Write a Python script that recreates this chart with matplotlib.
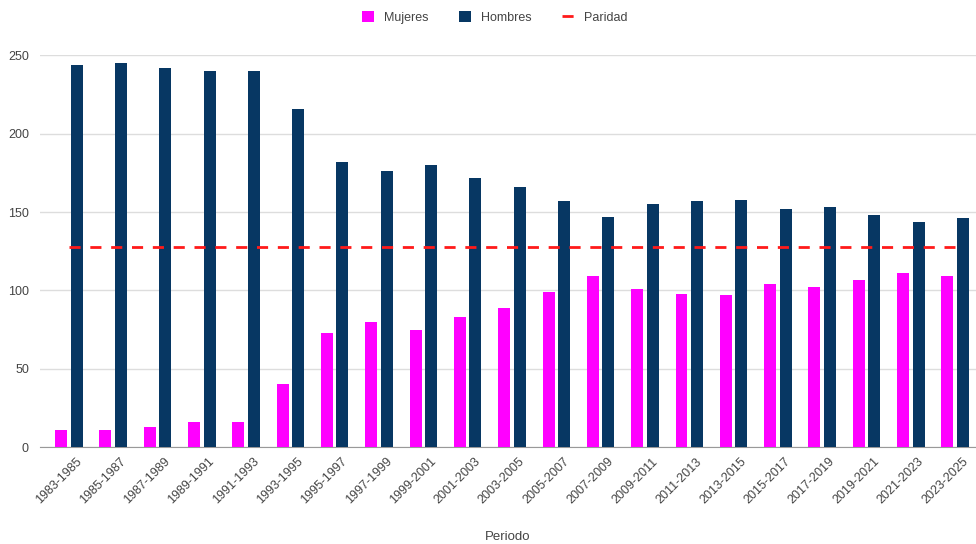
import numpy as np
import matplotlib.pyplot as plt

plt.rcParams['font.family'] = ['Liberation Sans', 'DejaVu Sans']

# =============================================================================
# Data
# =============================================================================
periodos = ['1983-1985', '1985-1987', '1987-1989', '1989-1991', '1991-1993',
            '1993-1995', '1995-1997', '1997-1999', '1999-2001', '2001-2003',
            '2003-2005', '2005-2007', '2007-2009', '2009-2011', '2011-2013',
            '2013-2015', '2015-2017', '2017-2019', '2019-2021', '2021-2023',
            '2023-2025']
mujeres = [11, 11, 13, 16, 16, 40, 73, 80, 75, 83, 89, 99, 109, 101, 98, 97,
           104, 102, 107, 111, 109]
hombres = [244, 245, 242, 240, 240, 216, 182, 176, 180, 172, 166, 157, 147,
           155, 157, 158, 152, 153, 148, 144, 146]
paridad = 128

# =============================================================================
# Plot
# =============================================================================
fig = plt.figure(figsize=(9.76, 5.44), dpi=100)
ax = fig.add_axes([0.041, 0.178, 0.959, 0.720])

x = np.arange(len(periodos))
w = 0.27
off = 0.175
b1 = ax.bar(x - off, mujeres, width=w, color='#ff00ff', label='Mujeres',
            zorder=3)
b2 = ax.bar(x + off, hombres, width=w, color='#073763', label='Hombres',
            zorder=3)
ln, = ax.plot([x[0], x[-1]], [paridad, paridad], color='#ff1a1a', lw=2,
              dashes=(4, 3.5), label='Paridad', zorder=4)

ax.set_xlim(-0.65, len(periodos) - 1 + 0.47)
ax.set_ylim(0, 250)
ax.set_yticks(np.arange(0, 251, 50))
ax.grid(axis='y', color='#dddddd', lw=1, zorder=0)
for s in ['top', 'right', 'left']:
    ax.spines[s].set_visible(False)
ax.spines['bottom'].set_color('#999999')
ax.tick_params(axis='both', length=0, labelsize=9, colors='#444444')
ax.tick_params(axis='y', pad=8)
ax.tick_params(axis='x', pad=6)

ax.set_xticks(x + 0.15)
ax.set_xticklabels(periodos, rotation=45, ha='right', rotation_mode='anchor')
ax.set_xlabel('Periodo', fontsize=9.5, color='#444444', labelpad=18)

fig.legend([b1, b2, ln], ['Mujeres', 'Hombres', 'Paridad'],
           loc='upper center', bbox_to_anchor=(0.507, 1.0), ncol=3,
           frameon=False, fontsize=9, handlelength=1.0, handleheight=1.0,
           handletextpad=0.8, columnspacing=2.4, labelcolor='#444444')

fig.savefig('out.png', dpi=100)
